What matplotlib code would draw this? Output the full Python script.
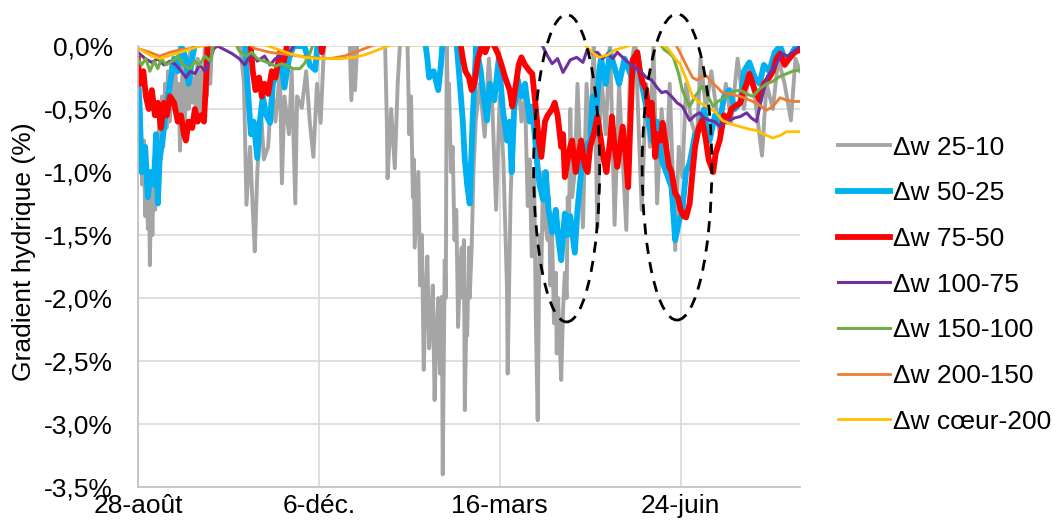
import matplotlib
matplotlib.use("Agg")
import matplotlib.pyplot as plt
from matplotlib.patches import Ellipse

plt.rcParams['font.family'] = ['Liberation Sans', 'DejaVu Sans']

# jours depuis le 28-août
tick_days = [0, 100, 200, 300]
tick_labels = ['28-août', '6-déc.', '16-mars', '24-juin']

# Δw 25-10 (gris)
d_25_10 = [0, 0.8, 1.6, 2.4, 3.3, 4, 4.8, 5.5, 6.2, 6.6, 7.3, 8, 8.8, 9.5, 10.3, 11, 11.8, 12.5,
           13.3, 14, 15, 15.8, 16.6, 17.5, 18.5, 19.5, 20.5, 21.5, 22.5, 23.3, 24, 25, 26, 27, 28,
           29, 30, 31, 32, 33, 34, 35, 36, 37, 38, 39, 40, 41, 42,
           56, 58.6, 60, 62, 63.5, 64.6, 66, 68, 69.6, 72, 74, 76, 78.5,
           79.6, 81, 83.5, 85, 87, 88, 90.6, 93, 95, 97, 99, 101, 103, 117, 118, 119.3, 120, 121.5,
           136.5, 137.6, 138, 140, 142, 143.6, 145,
           149, 150, 151, 152, 152.5, 153, 154, 155, 156, 157, 158, 159, 160, 161, 162, 163, 164,
           165, 166, 167, 168, 168.5, 169.6, 170.2, 170.7, 171.5, 172, 173, 174, 175, 176, 177, 178,
           179, 179.6, 180.2, 180.7, 181.5, 182, 183, 183.4, 184.5, 185.5, 186.7,
           189, 191.7, 194, 196, 198, 200, 202, 204, 204.4, 206, 208, 210, 212,
           214, 215.5, 216.5, 217.7, 219, 220, 221, 222, 223, 224, 225, 226.5, 227.2, 228, 229, 230,
           231, 231.5, 232.3, 233, 234, 235, 236, 237, 237.6, 238.3, 239, 240, 241.5, 243,
           246, 248, 250, 252, 254, 256, 258.6, 261, 263.5, 266, 268, 270, 272, 275,
           278.5, 281, 283, 285, 287, 289.5, 292, 294, 297, 299, 301, 303, 306, 309, 311, 314, 317,
           321.6, 325, 328, 331.5, 335, 338, 341, 345, 347.5, 351, 354, 357.5, 361, 363.5, 366]
v_25_10 = [-0.3, -0.95, -0.6, -1.1, -0.75, -1.35, -1.0, -1.45, -1.2, -1.74, -1.1, -1.5, -0.9, -1.3,
           -0.8, -1.1, -0.5, -0.9, -0.4, -0.8, -0.3, -0.65, -0.2, -0.6, -0.15, -0.5, -0.1, -0.45,
           -0.3, -0.83, -0.4, -0.1, -0.6, -0.2, -0.5, -0.05, -0.45, -0.25, -0.5, -0.1, -0.55, -0.2,
           -0.45, 0.0, -0.4, -0.1, -0.3, 0.05, 0.1,
           0.1, -0.3, -1.26, -0.8, -1.3, -1.63, -1.0, -0.5, -0.9, -0.8, -0.3, -0.6, -0.2,
           -1.09, -0.4, -0.7, -0.2, -1.25, -0.4, -0.49, -0.2, -0.6, -0.88, -0.3, -0.61, 0.05, 0.05,
           -0.43, 0.05, -0.35, 0.1,
           0.1, -0.6, -1.05, -0.5, -0.97, -0.3, 0.05,
           0.05, -0.7, -0.4, -1.2, -0.9, -1.6, -1.3, -1.0, -1.9, -1.5, -2.57, -2.0, -1.67, -2.4,
           -2.2, -1.9, -2.81, -2.3, -2.0, -2.6, -1.99, -3.4, -1.7, -2.0, 0.05, -0.6, -0.3, -1.0,
           -0.8, -1.54, -1.3, -2.23, -1.8, -1.6, -2.0, -1.54, -2.89, -2.2, -2.3, -1.6, -2.0, -1.6,
           -1.0, -0.6,
           -0.3, -0.72, -0.1, -0.5, -1.3, -0.4, -0.9, -1.91, -2.6, -1.2, -0.4, -0.2, -0.6,
           -0.4, -1.27, -0.9, -1.67, -1.0, -2.2, -2.97, -1.5, -1.8, -1.0, -1.4, -1.54, -1.2, -1.9,
           -1.5, -2.2, -1.8, -2.44, -2.0, -2.3, -2.65, -2.1, -1.8, -2.0, -1.2, -1.5, -0.5, -1.2,
           -1.0, -0.3,
           -1.44, -0.3, -0.8, 0.05, -1.44, -0.2, -0.7, 0.05, -1.42, -0.3, -0.9, -1.46, -0.2, 0.05,
           -1.3, -0.3, -0.8, 0.0, -1.25, -0.5, -1.0, -0.3, -1.62, -0.8, -1.04, -0.3, -0.6, -0.75,
           -0.1, -0.5, -0.2, -0.7, -0.3, -0.6, -0.1, -0.5, -0.2, -0.4, -0.87, -0.3, -0.5, -0.1,
           -0.3, -0.59, -0.1, -0.2]

# Δw 50-25 (bleu)
d_50_25 = [0, 1, 2, 4, 5.5, 7, 9, 10, 11, 12, 14, 15.5, 17.7, 20, 22, 24, 26.5, 28, 30, 32, 59, 61,
           62.5, 64, 66, 67.4, 69, 71, 73, 74.6, 77, 79, 81, 83.5, 86, 92, 95, 98, 99.5, 158.6, 160,
           161, 163.5, 166, 167.5, 168.5, 176, 178, 179.6, 180.7, 182, 183.4, 185, 187, 189.5, 191,
           193, 194.5, 197, 199.5, 201.7, 204, 205.5, 206.6, 208, 210, 212, 214, 216.6, 218, 220.5,
           222, 224, 225.4, 227, 229, 231, 232.6, 234, 236, 237.6, 239, 241.5, 243, 245, 247.5, 250,
           251.4, 253, 255, 256, 258.6, 261, 263.5, 266, 269, 273, 276, 278.5, 281, 284, 287, 289.5,
           292, 295, 297, 299, 301, 303, 305, 308, 310, 313, 316, 319, 321.6, 324, 327, 330, 333,
           335, 338, 341, 343.7, 346, 349, 352, 355, 357.5, 360, 363, 366]
v_50_25 = [-0.2, -0.5, -1.0, -0.8, -1.2, -1.0, -1.1, -0.7, -1.25, -0.9, -0.7, -0.5, -0.3, -0.1, -0.2,
           0.0, -0.1, -0.3, -0.1, 0.05, 0.05, -0.4, -0.7, -0.6, -0.89, -0.6, -0.4, -0.55, -0.61, -0.3,
           -0.2, -0.1, -0.33, -0.1, 0.0, 0.0, -0.15, -0.19, 0.05, 0.05, -0.1, -0.25, -0.2, -0.35,
           -0.15, 0.05, 0.05, -0.3, -0.6, -0.9, -1.1, -1.25, -0.6, 0.0, -0.2, -0.4, -0.59, -0.3,
           -0.43, -0.1, -0.5, -0.75, -0.6, -1.0, -0.5, -0.27, -0.4, -0.3, -0.6, -0.48, -0.9, -1.1,
           -1.22, -1.0, -1.3, -1.48, -1.3, -1.55, -1.7, -1.33, -1.5, -1.35, -1.64, -1.3, -1.0, -0.8,
           -0.75, -0.4, -0.6, -0.2, -0.1, -0.3, -0.05, -0.17, -0.3, -0.1, -0.25, -0.05, -0.3, -0.48,
           -0.75, -0.6, -0.9, -1.0, -1.12, -1.54, -1.4, -1.3, -1.0, -0.93, -0.7, -0.67, -0.5, -0.75,
           -0.55, -0.61, -0.4, -0.35, -0.5, -0.45, -0.2, -0.13, -0.25, -0.3, -0.15, -0.2, -0.05, 0.0,
           -0.1, -0.1, -0.02, 0.0]

# Δw 75-50 (rouge)
d_75_50 = [0, 1, 3, 4.4, 6, 7.7, 9.4, 11, 12.7, 14.4, 16, 17.7, 20, 22, 23.8, 25.4, 26.5, 28, 30,
           31.5, 33, 35, 36.5, 37.6, 38.7, 62, 63.5, 65, 67, 68.5, 70, 72, 74, 76, 78.5, 80.7, 83,
           100.6, 101.7, 103, 178, 179.6, 181, 183, 184.5, 186, 188, 190, 192, 194.5, 197, 199, 201,
           203, 205.5, 207, 209, 210.5, 212, 214, 216.6, 218, 220, 221.6, 223, 225, 226.5, 229,
           230.4, 232, 234, 235, 236, 237.6, 239, 240, 242, 243.7, 245, 247, 248.6, 250, 252, 254,
           256, 257.5, 259, 261, 262, 263.5, 265, 267, 268, 269.6, 271, 272, 273.5, 276, 277.5, 279,
           281, 282.5, 284, 286, 287, 289, 290, 292, 293.5, 295, 297, 298.5, 300, 301.7, 303, 305,
           306.6, 308, 310, 312, 314, 315.5, 318, 319.4, 321.6, 324, 326, 328, 330, 333, 335, 336.5,
           338, 341, 343.7, 346, 349, 351, 353, 355, 357.5, 360, 363, 366]
v_75_50 = [-0.1, -0.3, -0.2, -0.4, -0.5, -0.35, -0.55, -0.45, -0.65, -0.45, -0.55, -0.4, -0.45, -0.6,
           -0.55, -0.7, -0.75, -0.6, -0.65, -0.5, -0.6, -0.55, -0.6, -0.3, 0.05, 0.05, -0.2, -0.35,
           -0.25, -0.4, -0.3, -0.38, -0.2, -0.25, -0.05, -0.12, 0.05, 0.05, -0.05, 0.05, 0.05, -0.1,
           -0.2, -0.25, -0.35, -0.3, -0.1, 0.0, -0.05, 0.05, 0.0, -0.06, -0.15, -0.25, -0.35, -0.48,
           -0.3, -0.15, -0.09, -0.15, -0.2, -0.22, -0.5, -0.75, -0.88, -0.6, -0.55, -0.5, -0.45,
           -0.55, -0.8, -0.7, -1.04, -0.9, -0.8, -0.75, -1.0, -0.85, -0.75, -0.95, -1.0, -0.8, -0.7,
           -0.56, -0.75, -0.9, -1.0, -0.75, -0.56, -0.8, -0.96, -0.75, -0.64, -0.85, -1.12, -0.7,
           -0.11, -0.05, -0.2, -0.29, -0.35, -0.55, -0.45, -0.88, -0.7, -0.75, -0.61, -0.8, -0.95,
           -1.0, -1.17, -1.2, -1.3, -1.35, -1.36, -1.25, -1.0, -0.8, -0.65, -0.59, -0.75, -0.9, -1.0,
           -0.85, -0.75, -0.55, -0.6, -0.5, -0.48, -0.45, -0.35, -0.3, -0.22, -0.35, -0.43, -0.3,
           -0.25, -0.2, -0.1, -0.06, -0.15, -0.1, -0.05, -0.03]

# Δw 100-75 (violet)
d_100_75 = [0, 4, 7.7, 11, 14.4, 17.7, 21, 24, 26.5, 29, 31.5, 34, 37, 40, 42, 44, 48, 52, 56, 59,
            61, 63, 66, 70, 73, 76, 78.5, 81, 84, 87, 223, 226.5, 229, 232, 235, 239, 242.6, 246,
            248.6, 251.4, 254, 257, 259.7, 262.5, 265, 268, 271, 274.6, 278.5, 281, 284, 287, 289.5,
            292, 295, 298, 301, 305, 308, 310.5, 313, 316, 319, 321.6, 324, 327, 330, 333, 336.5,
            339, 342, 345, 348, 351, 353, 356, 359, 362, 366]
v_100_75 = [-0.05, -0.1, -0.13, -0.1, -0.15, -0.12, -0.15, -0.2, -0.25, -0.2, -0.22, -0.15, -0.2,
            -0.1, -0.02, 0.0, -0.03, -0.06, -0.1, -0.15, -0.1, -0.05, -0.12, -0.08, -0.15, -0.1,
            -0.08, -0.05, -0.05, 0.02, 0.02, -0.08, -0.14, -0.1, -0.21, -0.11, -0.09, -0.13, -0.02,
            -0.06, -0.05, -0.1, -0.06, -0.1, -0.05, -0.09, -0.13, -0.17, -0.21, -0.25, -0.27, -0.33,
            -0.37, -0.36, -0.4, -0.45, -0.48, -0.59, -0.55, -0.53, -0.57, -0.59, -0.6, -0.64, -0.6,
            -0.59, -0.57, -0.56, -0.53, -0.57, -0.6, -0.4, -0.24, -0.18, -0.14, -0.06, -0.08, -0.05,
            0.0]

# Δw 150-100 (vert)
d_150_100 = [0, 2, 4.4, 6.6, 9, 11, 13, 15.5, 19, 22, 25, 29, 31.5, 34, 37, 40, 42, 54, 56, 60, 63,
             66, 69.6, 73, 76, 79.6, 83, 86, 89.5, 92, 95, 97, 288.5, 291, 294, 296, 298.5, 301,
             303, 305, 308, 312, 314.5, 318, 320.5, 323, 325.5, 329, 333, 336.5, 340, 343.7, 347.5,
             351, 355, 358.6, 362, 366]
v_150_100 = [-0.1, -0.15, -0.1, -0.2, -0.12, -0.18, -0.1, -0.15, -0.12, -0.08, -0.15, -0.18, -0.12,
             -0.15, -0.08, -0.12, 0.02, 0.02, -0.04, -0.08, -0.05, -0.1, -0.12, -0.14, -0.16, -0.14,
             -0.16, -0.18, -0.18, -0.14, -0.06, 0.02, 0.02, -0.03, -0.06, -0.09, -0.2, -0.35, -0.42,
             -0.48, -0.4, -0.32, -0.38, -0.48, -0.44, -0.42, -0.4, -0.36, -0.35, -0.38, -0.4, -0.34,
             -0.3, -0.28, -0.24, -0.22, -0.2, -0.19]

# Δw 200-150 (orange)
d_200_150 = [0, 6.6, 12, 17.7, 23, 29, 34, 40, 62, 64.6, 73, 84, 95, 106, 114, 120, 125.4, 131,
             297, 299.6, 303, 306.6, 309, 312, 314.5, 318, 320.5, 323, 327, 333, 336.5, 340, 343.7,
             347.5, 351, 355, 358.6, 362, 366]
v_200_150 = [-0.02, -0.05, -0.08, -0.05, -0.03, -0.02, 0.0, 0.01, 0.01, -0.02, -0.05, -0.07, -0.09,
             -0.1, -0.08, -0.05, -0.02, 0.01, 0.02, -0.05, -0.15, -0.25, -0.27, -0.24, -0.24, -0.3,
             -0.33, -0.37, -0.38, -0.4, -0.42, -0.44, -0.47, -0.51, -0.48, -0.41, -0.43, -0.44,
             -0.44]

# Δw cœur-200 (jaune)
d_coeur_200 = [0, 4, 7.7, 12, 16.6, 21, 25.4, 30, 34, 40, 70, 76, 84, 92, 100.6, 111.6, 120, 125.4,
               131, 136.5, 140, 247, 251, 255, 259.7, 264, 269, 273, 289.5, 293, 297, 299.6, 302.8,
               306.6, 310.5, 314.5, 319, 323, 328, 333, 338, 342, 346, 351, 355, 358.6, 362, 366]
v_coeur_200 = [-0.02, -0.05, -0.08, -0.1, -0.08, -0.06, -0.04, -0.02, 0.0, 0.01, 0.01, -0.02, -0.06,
               -0.09, -0.1, -0.1, -0.09, -0.07, -0.04, -0.01, 0.01, 0.01, -0.05, -0.09, -0.07, -0.03,
               -0.01, 0.01, 0.01, -0.02, -0.1, -0.14, -0.25, -0.4, -0.45, -0.48, -0.52, -0.59, -0.62,
               -0.64, -0.66, -0.67, -0.7, -0.73, -0.71, -0.68, -0.68, -0.68]

series = [
    ('Δw 25-10', d_25_10, v_25_10, '#A5A5A5', 2.8),
    ('Δw 50-25', d_50_25, v_50_25, '#00B0F0', 4.2),
    ('Δw 75-50', d_75_50, v_75_50, '#FF0000', 4.2),
    ('Δw 100-75', d_100_75, v_100_75, '#7030A0', 2.2),
    ('Δw 150-100', d_150_100, v_150_100, '#70AD47', 2.2),
    ('Δw 200-150', d_200_150, v_200_150, '#ED7D31', 2.0),
    ('Δw cœur-200', d_coeur_200, v_coeur_200, '#FFC000', 2.0),
]

# zones entourées (centre jour, centre %, largeur jours, hauteur %)
ellipses = [(237, -0.97, 36.5, 2.44), (298, -0.96, 38.5, 2.43)]

fig = plt.figure(figsize=(10.61, 5.29), dpi=100)
ax = fig.add_axes([0.130, 0.0794, 0.624, 0.8336])

for label, d, v, c, lw in series:
    ax.plot(d, v, color=c, lw=lw, label=label, solid_joinstyle='round')

for cx, cy, w, h in ellipses:
    ax.add_patch(Ellipse((cx, cy), w, h, fill=False, ls=(0, (4, 3)), lw=2,
                         edgecolor='black', clip_on=False, zorder=5))

ax.set_xlim(0, 366)
ax.set_ylim(-3.5, 0)
ax.set_yticks([0, -0.5, -1, -1.5, -2, -2.5, -3, -3.5])
ax.set_yticklabels(['0,0%', '-0,5%', '-1,0%', '-1,5%', '-2,0%', '-2,5%', '-3,0%', '-3,5%'])
ax.set_xticks(tick_days)
ax.set_xticklabels(tick_labels)
ax.tick_params(length=0, labelsize=19, colors='black')
ax.tick_params(axis='y', pad=18)
ax.tick_params(axis='x', pad=5)
ax.grid(True, color='#D9D9D9', lw=1.2)
ax.set_axisbelow(True)
for s in ['top', 'right']:
    ax.spines[s].set_visible(False)
for s in ['left', 'bottom']:
    ax.spines[s].set_color('#BFBFBF')
    ax.spines[s].set_linewidth(1.2)
ax.set_ylabel('Gradient hydrique (%)', fontsize=19)
ax.yaxis.set_label_coords(-0.154, 0.533)

fig.legend(loc='center left', bbox_to_anchor=(0.767, 0.462), frameon=False, fontsize=19,
           handlelength=1.97, labelspacing=0.82, handletextpad=0.12)

fig.savefig('out.png', dpi=100)
